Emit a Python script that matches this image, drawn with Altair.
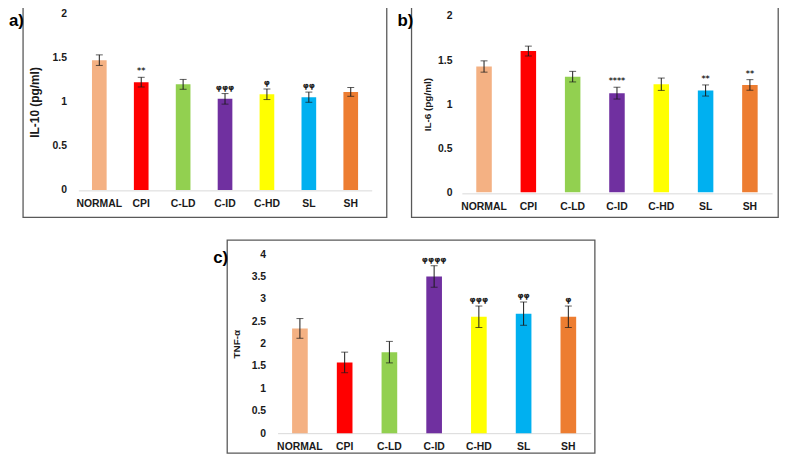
import altair as alt
import pandas as pd

categories = ["NORMAL", "CPI", "C-LD", "C-ID", "C-HD", "SL", "SH"]
colors = ["#F4B183", "#FF0000", "#92D050", "#7030A0", "#FFFF00", "#00B0F0", "#ED7D31"]

il10_mean = [1.475, 1.225, 1.20, 1.035, 1.087, 1.054, 1.114]
il10_err = [0.06, 0.055, 0.056, 0.06, 0.06, 0.058, 0.05]
il10_sig = ["", "**", "", "φφφ", "φ", "φφ", ""]

il6_mean = [1.427, 1.602, 1.312, 1.125, 1.226, 1.155, 1.218]
il6_err = [0.064, 0.056, 0.06, 0.067, 0.07, 0.063, 0.06]
il6_sig = ["", "", "", "****", "", "**", "**"]

tnf_mean = [2.34, 1.58, 1.81, 3.50, 2.60, 2.67, 2.60]
tnf_err = [0.22, 0.23, 0.24, 0.24, 0.24, 0.26, 0.24]
tnf_sig = ["", "", "", "φφφφ", "φφφ", "φφ", "φ"]

FONT = "Liberation Sans"
TXT = "#1a1a1a"


def panel(means, errs, sigs, ymax, ticks, title, title_size, title_pad,
          yrange, xrange, x_off, y_off, w, h, label, lab_y):
    df = pd.DataFrame({
        "cat": categories,
        "mean": means,
        "lo": [m - e for m, e in zip(means, errs)],
        "hi": [m + e for m, e in zip(means, errs)],
        "sig": sigs,
    })
    xaxis = alt.Axis(title=None, labelAngle=0, labelFont=FONT, labelFontSize=10.5,
                     labelFontWeight="bold", labelColor=TXT, ticks=False,
                     domainColor="#d9d9d9", domainWidth=1, labelPadding=8,
                     offset=x_off)
    xscale = alt.Scale(range=xrange, paddingInner=0.65, paddingOuter=0.325)
    yaxis = alt.Axis(values=ticks, format="~g", title=title, grid=False, domain=False,
                     ticks=False, labelPadding=4, labelFont=FONT, labelFontSize=10.5,
                     labelFontWeight="bold", labelColor=TXT, labelOverlap=False,
                     titleFont=FONT,
                     titleFontSize=title_size, titleFontWeight="bold", titleColor=TXT,
                     titlePadding=title_pad, offset=y_off)
    yscale = alt.Scale(domain=[0, ymax], range=yrange, nice=False, zero=True)

    def X():
        return alt.X("cat:N", sort=categories, scale=xscale, axis=xaxis)

    def Y(field):
        return alt.Y(field, type="quantitative", scale=yscale, axis=yaxis)

    base = alt.Chart(df)
    bars = base.mark_bar().encode(
        x=X(), y=Y("mean"),
        color=alt.Color("cat:N", scale=alt.Scale(domain=categories, range=colors), legend=None),
    )
    rule = base.mark_rule(color=TXT, strokeWidth=1).encode(
        x=X(), y=Y("lo"), y2="hi:Q")
    cap_lo = base.mark_tick(color=TXT, size=7, thickness=1).encode(x=X(), y=Y("lo"))
    cap_hi = base.mark_tick(color=TXT, size=7, thickness=1).encode(x=X(), y=Y("hi"))
    sig = base.mark_text(baseline="bottom", dy=-2, fontSize=8, fontWeight="bold",
                         font="DejaVu Sans", color=TXT).encode(
        x=X(), y=Y("hi"), text="sig:N")
    lab = alt.Chart(pd.DataFrame({"t": [label]})).mark_text(
        align="left", baseline="middle", fontSize=17, fontWeight="bold",
        font=FONT, color="#000000").encode(
        text="t:N", x=alt.value(-14), y=alt.value(lab_y))
    return alt.layer(bars, rule, cap_lo, cap_hi, sig, lab).properties(
        width=w, height=h,
        view=alt.ViewBackground(stroke="#595959", strokeWidth=1.3, fill="white"))


pa = panel(il10_mean, il10_err, il10_sig, 2, [0, 0.5, 1, 1.5, 2], "IL-10 (pg/ml)", 12, 11,
           [184.5, 7], [56, 352], -27, -48, 367, 212, "a)", 14)
pb = panel(il6_mean, il6_err, il6_sig, 2, [0, 0.5, 1, 1.5, 2], "IL-6 (pg/ml)", 10, 5,
           [187, 9], [51, 364], -24, -45, 370, 212, "b)", 14)
pc = panel(tnf_mean, tnf_err, tnf_sig, 4, [0, 0.5, 1, 1.5, 2, 2.5, 3, 3.5, 4], "TNF-α", 10, 10,
           [195, 14.3], [51, 367], -20, -43, 371, 215, "c)", 18)

spacer = alt.Chart(pd.DataFrame({"v": [0]})).mark_point(size=0, opacity=0).encode(
    x=alt.value(0), y=alt.value(0)).properties(
    width=166, height=215, view=alt.ViewBackground(stroke="transparent"))

top = alt.hconcat(pa, pb, spacing=9).resolve_scale(x="independent", y="independent")
bottom = alt.hconcat(spacer, pc, spacing=24).resolve_scale(x="independent", y="independent")

chart = alt.vconcat(top, bottom, spacing=21).resolve_scale(
    x="independent", y="independent").properties(
    padding={"left": 0, "top": -4, "right": 0, "bottom": 0},
    background="white")

chart.save("out.html", embed_options={"renderer": "svg", "actions": False})
